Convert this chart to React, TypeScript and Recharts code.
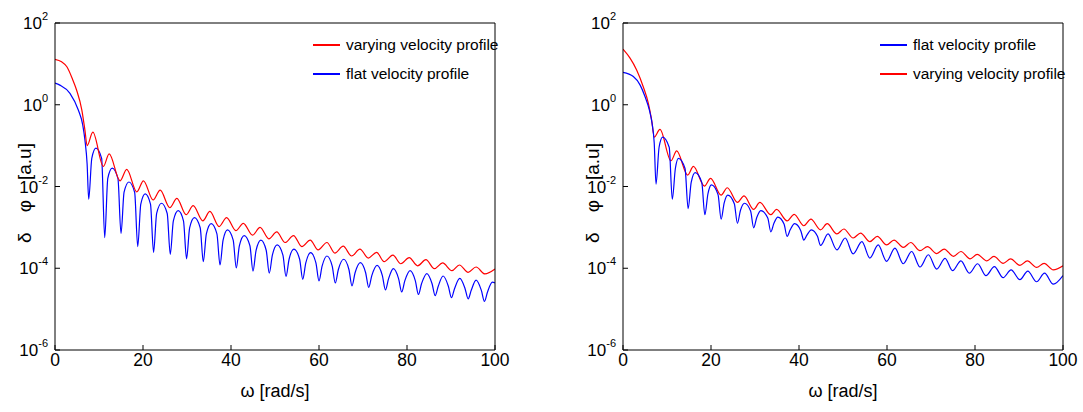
import React from 'react';
import { LineChart, Line, XAxis, YAxis } from 'recharts';

// each point: [omega in rad/s, log10 of delta phi]
type Pt = [number, number];

const leftVarying: Pt[] = [
  [0, 1.11], [1.5, 1.05], [2.7, 0.93], [4.0, 0.62], [4.9, 0.36], [6.1, -0.13], [6.8, -0.62], [7.3, -1.0],
  [8.6, -0.67], [11.0, -1.51], [12.3, -1.2], [14.8, -1.86], [16.3, -1.58], [18.6, -2.13], [20.1, -1.86],
  [22.3, -2.33], [23.9, -2.09], [26.1, -2.52], [27.7, -2.29], [29.8, -2.69], [31.4, -2.47], [33.6, -2.84],
  [35.2, -2.61], [37.3, -2.98], [39.0, -2.76], [41.1, -3.08], [42.8, -2.9], [44.9, -3.19], [46.6, -3.0],
  [48.6, -3.28], [50.4, -3.11], [52.3, -3.37], [54.2, -3.2], [56.1, -3.47], [58.0, -3.31], [59.8, -3.55],
  [61.8, -3.37], [63.6, -3.63], [65.5, -3.46], [67.4, -3.7], [69.3, -3.53], [71.2, -3.75], [73.1, -3.61],
  [74.8, -3.84], [76.8, -3.68], [78.6, -3.89], [80.5, -3.74], [82.4, -3.94], [84.3, -3.79], [86.2, -4.01],
  [88.1, -3.87], [90.2, -4.06], [91.9, -3.92], [93.9, -4.1], [95.7, -3.97], [97.7, -4.14], [100, -4.02],
];

const leftFlat: Pt[] = [
  [0, 0.53], [1.1, 0.48], [3.4, 0.28], [5.3, -0.13], [6.3, -0.49], [6.8, -0.86], [7.3, -1.45], [7.66, -2.31],
  [8.36, -1.31], [9.3, -1.06], [10.6, -1.31], [11.3, -3.25],
  [12.0, -1.8], [13.0, -1.55], [14.3, -1.8], [15.0, -3.15],
  [15.7, -2.14], [16.8, -1.89], [18.1, -2.14], [18.8, -3.47],
  [19.5, -2.43], [20.5, -2.18], [21.7, -2.43], [22.4, -3.61],
  [23.1, -2.66], [24.2, -2.41], [25.5, -2.66], [26.2, -3.66],
  [26.9, -2.84], [28.0, -2.59], [29.2, -2.84], [29.9, -3.77],
  [30.6, -3.01], [31.7, -2.76], [33.0, -3.01], [33.7, -3.84],
  [34.4, -3.16], [35.5, -2.91], [36.8, -3.16], [37.5, -3.92],
  [38.2, -3.31], [39.2, -3.06], [40.5, -3.31], [41.2, -3.99],
  [41.9, -3.45], [43.0, -3.2], [44.3, -3.45], [45.0, -4.07],
  [45.7, -3.56], [46.8, -3.31], [48.0, -3.56], [48.7, -4.12],
  [49.4, -3.68], [50.5, -3.43], [51.8, -3.68], [52.5, -4.2],
  [53.2, -3.78], [54.3, -3.53], [55.6, -3.78], [56.3, -4.27],
  [57.0, -3.87], [58.1, -3.62], [59.3, -3.87], [60.0, -4.31],
  [60.7, -3.95], [61.8, -3.7], [63.0, -3.95], [63.7, -4.36],
  [64.4, -4.03], [65.6, -3.78], [66.8, -4.03], [67.5, -4.43],
  [68.2, -4.11], [69.4, -3.86], [70.6, -4.11], [71.3, -4.47],
  [72.0, -4.18], [73.2, -3.93], [74.4, -4.18], [75.1, -4.53],
  [75.8, -4.26], [76.9, -4.01], [78.1, -4.26], [78.8, -4.58],
  [79.5, -4.31], [80.7, -4.06], [81.9, -4.31], [82.6, -4.64],
  [83.3, -4.38], [84.5, -4.13], [85.7, -4.38], [86.4, -4.67],
  [87.1, -4.44], [88.2, -4.19], [89.4, -4.44], [90.1, -4.72],
  [90.8, -4.5], [92.0, -4.25], [93.2, -4.5], [93.9, -4.75],
  [94.6, -4.54], [95.7, -4.29], [96.9, -4.54], [97.6, -4.81],
  [98.3, -4.58], [99.4, -4.34], [100, -4.36],
];

const rightFlat: Pt[] = [
  [0, 0.79], [2.35, 0.69], [3.9, 0.48], [5.0, 0.2], [6.0, -0.13], [6.6, -0.45], [7.1, -0.94], [7.5, -1.94],
  [8.2, -1.04], [9.0, -0.79], [10.5, -1.04], [11.2, -2.31],
  [11.9, -1.56], [12.6, -1.31], [14.1, -1.56], [14.8, -2.54],
  [15.5, -1.9], [16.4, -1.66], [17.9, -1.9], [18.6, -2.69],
  [19.3, -2.18], [20.1, -1.96], [21.6, -2.2], [22.3, -2.8],
  [23.0, -2.4], [23.8, -2.21], [25.3, -2.42], [26.0, -2.9],
  [26.7, -2.58], [27.6, -2.41], [29.0, -2.6], [29.7, -3.01],
  [30.4, -2.76], [31.3, -2.59], [32.9, -2.77], [33.6, -3.11],
  [34.3, -2.9], [35.2, -2.75], [36.6, -2.92], [37.3, -3.22],
  [38.0, -3.06], [39.0, -2.91], [40.4, -3.08], [41.1, -3.31],
  [41.8, -3.19], [42.8, -3.06], [44.2, -3.22], [44.9, -3.44],
  [46.6, -3.16], [48.6, -3.55], [50.5, -3.26], [52.3, -3.65], [54.3, -3.35], [56.1, -3.75],
  [58.0, -3.43], [59.9, -3.83], [61.8, -3.51], [63.7, -3.89], [65.6, -3.59], [67.5, -3.97],
  [69.4, -3.67], [71.3, -4.02], [73.2, -3.76], [74.9, -4.06], [76.8, -3.82], [78.7, -4.12],
  [80.6, -3.89], [82.5, -4.18], [84.4, -3.96], [86.4, -4.23], [88.2, -4.04], [90.2, -4.28],
  [92.0, -4.07], [94.0, -4.33], [95.8, -4.12], [97.8, -4.39], [100, -4.18],
];

const rightVarying: Pt[] = [
  [0, 1.36], [1.6, 1.14], [3.1, 0.85], [4.6, 0.44], [5.75, 0.04], [6.5, -0.37], [7.1, -0.79],
  [8.4, -0.6], [10.9, -1.37], [12.2, -1.13], [14.7, -1.72], [16.0, -1.51], [18.5, -1.99], [19.9, -1.8],
  [22.3, -2.21], [23.7, -2.03], [26.0, -2.39], [27.5, -2.23], [29.7, -2.56], [31.1, -2.39], [33.6, -2.69],
  [34.9, -2.56], [37.3, -2.84], [38.9, -2.68], [41.1, -2.96], [42.7, -2.8], [44.9, -3.06], [46.4, -2.91],
  [48.6, -3.16], [50.2, -3.04], [52.3, -3.26], [54.0, -3.14], [56.1, -3.35], [57.8, -3.22], [59.9, -3.43],
  [61.6, -3.31], [63.7, -3.49], [65.4, -3.37], [67.5, -3.57], [69.2, -3.47], [71.3, -3.64], [73.0, -3.53],
  [75.1, -3.71], [76.8, -3.59], [78.9, -3.77], [80.5, -3.66], [82.7, -3.82], [84.3, -3.71], [86.4, -3.88],
  [88.1, -3.77], [90.2, -3.93], [91.9, -3.82], [94.0, -3.98], [95.7, -3.88], [97.8, -4.04], [100, -3.94],
];

const xTicks = [0, 20, 40, 60, 80, 100];
const xTicksTop = [20, 40, 60, 80];
const yTicks = [1e-6, 1e-4, 1e-2, 1, 100];

const RED = '#ff0000';
const BLUE = '#0000ff';
const FONT = '"Liberation Sans", Arial, Helvetica, sans-serif';

const toRows = (pts: Pt[]) => pts.map(([w, e]) => ({ w, v: Math.pow(10, e) }));

const YTick = (props: any) => {
  const { x, y, payload } = props;
  const exp = Math.round(Math.log10(payload.value));
  return (
    <text x={x} y={y} dy={6} textAnchor="end" fontSize={17} fontFamily={FONT} fill="#000">
      10<tspan dy={-9} fontSize={11}>{exp}</tspan>
    </text>
  );
};

const XTick = (props: any) => {
  const { x, y, payload } = props;
  return (
    <text x={x} y={y} dy={16} textAnchor="middle" fontSize={17.5} fontFamily={FONT} fill="#000">
      {payload.value}
    </text>
  );
};

interface Series {
  name: string;
  color: string;
  points: Pt[];
}

interface PanelProps {
  left: number;
  width: number;
  plotLeft: number;
  plotRight: number;
  series: Series[];
  legendX: number;
}

const H = 412;
const PLOT_TOP = 23;
const PLOT_BOTTOM = 350;

const Panel: React.FC<PanelProps> = ({ left, width, plotLeft, plotRight, series, legendX }) => {
  const plotCenter = (plotLeft + plotRight) / 2;
  // axes are 1px thick, so the margins leave that pixel out
  const margin = {
    top: PLOT_TOP - 1,
    bottom: H - PLOT_BOTTOM - 1,
    left: plotLeft - 1,
    right: width - plotRight - 1,
  };
  return (
    <div style={{ position: 'absolute', left, top: 0, width, height: H, fontFamily: FONT }}>
      <LineChart width={width} height={H} margin={margin}>
        <XAxis
          xAxisId="b"
          dataKey="w"
          type="number"
          domain={[0, 100]}
          ticks={xTicks}
          allowDataOverflow
          height={1}
          tickSize={-5}
          tickMargin={5}
          tick={<XTick />}
          stroke="#000"
        />
        <XAxis
          xAxisId="t"
          orientation="top"
          dataKey="w"
          type="number"
          domain={[0, 100]}
          ticks={xTicksTop}
          allowDataOverflow
          height={1}
          tickSize={-5}
          tick={false}
          stroke="#000"
        />
        <YAxis
          yAxisId="l"
          type="number"
          scale="log"
          domain={[1e-6, 100]}
          ticks={yTicks}
          allowDataOverflow
          width={1}
          tickSize={-5}
          tickMargin={12}
          tick={<YTick />}
          stroke="#000"
        />
        <YAxis
          yAxisId="r"
          orientation="right"
          type="number"
          scale="log"
          domain={[1e-6, 100]}
          ticks={yTicks}
          allowDataOverflow
          width={1}
          tickSize={-5}
          tick={false}
          stroke="#000"
        />
        {[...series].reverse().map((s) => (
          <Line
            key={s.name}
            xAxisId="b"
            yAxisId="l"
            data={toRows(s.points)}
            dataKey="v"
            type="monotone"
            stroke={s.color}
            strokeWidth={1.2}
            dot={false}
            isAnimationActive={false}
          />
        ))}
      </LineChart>

      {series.map((s, i) => (
        <div key={s.name} style={{ position: 'absolute', left: legendX, top: 36 + i * 29, height: 18, display: 'flex', alignItems: 'center' }}>
          <div style={{ width: 27, height: 1.5, background: s.color, marginRight: 6 }} />
          <span style={{ fontSize: 15.5, color: '#000', whiteSpace: 'nowrap' }}>{s.name}</span>
        </div>
      ))}

      <div
        style={{
          position: 'absolute',
          left: plotCenter,
          top: 391,
          transform: 'translate(-50%, -50%)',
          fontSize: 18,
          whiteSpace: 'nowrap',
        }}
      >
        ω [rad/s]
      </div>
      <div
        style={{
          position: 'absolute',
          left: plotLeft - 30,
          top: 193,
          transform: 'translate(-50%, -50%) rotate(-90deg)',
          fontSize: 19,
          whiteSpace: 'nowrap',
          display: 'flex',
          alignItems: 'baseline',
        }}
      >
        <span>δ</span>
        <span style={{ marginLeft: 20 }}>φ</span>
        <span style={{ marginLeft: 20 }}>[a.u]</span>
      </div>
    </div>
  );
};

export default function App() {
  return (
    <div style={{ position: 'absolute', left: 0, top: 0, width: 1083, height: H, background: '#fff' }}>
      <Panel
        left={0}
        width={541}
        plotLeft={55}
        plotRight={495}
        legendX={313}
        series={[
          { name: 'varying velocity profile', color: RED, points: leftVarying },
          { name: 'flat velocity profile', color: BLUE, points: leftFlat },
        ]}
      />
      <Panel
        left={541}
        width={542}
        plotLeft={82}
        plotRight={522}
        legendX={339}
        series={[
          { name: 'flat velocity profile', color: BLUE, points: rightFlat },
          { name: 'varying velocity profile', color: RED, points: rightVarying },
        ]}
      />
    </div>
  );
}
